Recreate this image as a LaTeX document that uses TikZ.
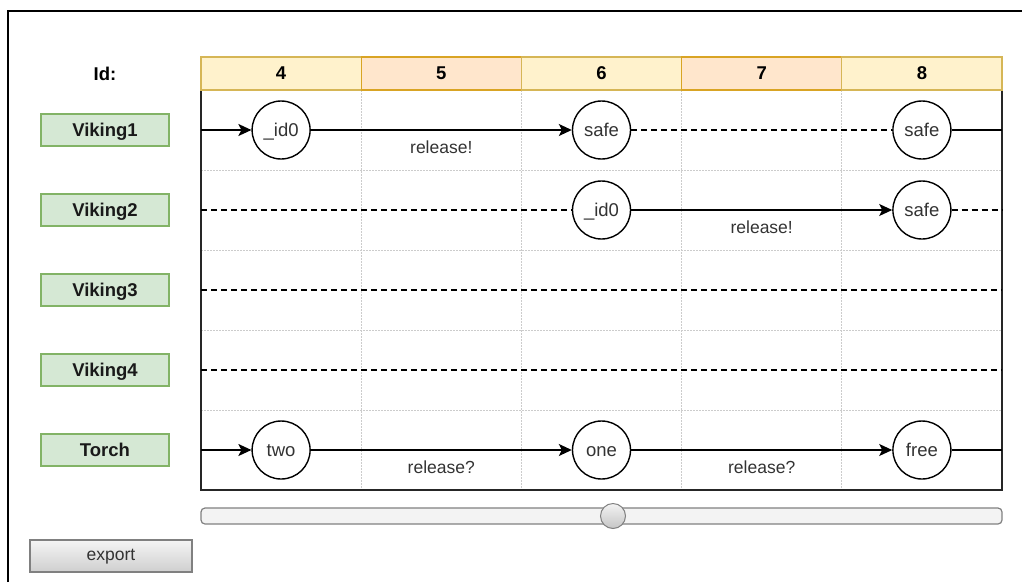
\documentclass[tikz,border=0pt]{standalone}
\usepackage{fontspec}
\setmainfont{Liberation Sans}
\usepackage{xcolor}
\usepackage{tikz}
\usetikzlibrary{arrows.meta,shapes.misc}

\definecolor{hdryellow}{HTML}{FFF2CC}
\definecolor{hdryellowline}{HTML}{D6B656}
\definecolor{hdrorange}{HTML}{FFE6CC}
\definecolor{hdrorangeline}{HTML}{D9A424}
\definecolor{agentfill}{HTML}{D5E8D4}
\definecolor{agentline}{HTML}{82B366}
\definecolor{txtgray}{HTML}{333333}
\definecolor{trackfill}{HTML}{F3F3F3}

\newcommand{\uifont}{\fontsize{17.5pt}{21pt}\selectfont}
\newcommand{\uistate}{\fontsize{18.5pt}{22pt}\selectfont}
\newcommand{\uibold}{\fontsize{18.5pt}{22pt}\selectfont\bfseries}

\tikzset{
  idcell/.style={draw=hdryellowline, fill=hdryellow, line width=1.2pt,
    minimum width=160.2pt, minimum height=33pt, inner sep=0pt,
    font=\uibold, text=black},
  idcellalt/.style={idcell, draw=hdrorangeline, fill=hdrorange},
  agent/.style={draw=agentline, fill=agentfill, line width=1.2pt,
    minimum width=128pt, minimum height=32pt, inner sep=0pt,
    font=\uibold, text=black!90},
  state/.style={circle, draw, fill=white, line width=1.4pt,
    minimum size=58pt, inner sep=0pt, font=\uistate, text height=13pt},
  flow/.style={line width=1.4pt, -{Stealth[length=13pt,width=12pt,inset=3pt]}},
  link/.style={line width=1.4pt},
  idle/.style={line width=1.4pt, dash pattern=on 6pt off 4pt},
  lane/.style={gray!40, line width=0.8pt, dash pattern=on 1.5pt off 1.5pt},
  guard/.style={below=7pt},
}

\begin{document}
\begin{tikzpicture}[x=1pt,y=-1pt,
  every node/.style={font=\uifont, text=txtgray, text height=12.5pt, text depth=0pt}]
  \useasboundingbox (0,0) rectangle (1022,582);

  % window frame
  \draw[line width=1.5pt] (8,582) -- (8,11) -- (1022,11);

  % timeline grid
  \draw[lane] (361.2,90) -- (361.2,490);
  \draw[lane] (521.4,90) -- (521.4,490);
  \draw[lane] (681.6,90) -- (681.6,490);
  \draw[lane] (841.8,90) -- (841.8,490);
  \draw[lane] (201,170) -- (1002,170);
  \draw[lane] (201,250) -- (1002,250);
  \draw[lane] (201,330) -- (1002,330);
  \draw[lane] (201,410) -- (1002,410);
  \draw[line width=1.6pt, black!85] (201,90) -- (201,490) -- (1002,490) -- (1002,90);

  % id header
  \node[font=\uibold, text=black] (idlabel) at (105,74) {Id:};
  \node[idcell]    (h4) at (281.1,73.5) {4};
  \node[idcellalt] (h5) at (441.3,73.5) {5};
  \node[idcell]    (h6) at (601.5,73.5) {6};
  \node[idcellalt] (h7) at (761.7,73.5) {7};
  \node[idcell]    (h8) at (921.9,73.5) {8};

  % agents
  \node[agent] (viking1) at (105,130) {Viking1};
  \node[agent] (viking2) at (105,210) {Viking2};
  \node[agent] (viking3) at (105,290) {Viking3};
  \node[agent] (viking4) at (105,370) {Viking4};
  \node[agent] (torch)   at (105,450) {Torch};

  % lane ends
  \coordinate (v1in) at (201,130);  \coordinate (v1out) at (1002,130);
  \coordinate (v2in) at (201,210);  \coordinate (v2out) at (1002,210);
  \coordinate (v3in) at (201,290);  \coordinate (v3out) at (1002,290);
  \coordinate (v4in) at (201,370);  \coordinate (v4out) at (1002,370);
  \coordinate (tin)  at (201,450);  \coordinate (tout)  at (1002,450);

  % states
  \node[state] (v1a) at (281.1,130) {\_id0};
  \node[state] (v1b) at (601.5,130) {safe};
  \node[state] (v1c) at (921.9,130) {safe};
  \node[state] (v2a) at (601.5,210) {\_id0};
  \node[state] (v2b) at (921.9,210) {safe};
  \node[state] (t1)  at (281.1,450) {two};
  \node[state] (t2)  at (601.5,450) {one};
  \node[state] (t3)  at (921.9,450) {free};

  % Viking1
  \draw[flow] (v1in) -- (v1a);
  \draw[flow] (v1a) -- node[guard] {release!} (v1b);
  \draw[idle] (v1b) -- (v1c);
  \draw[link] (v1c) -- (v1out);

  % Viking2
  \draw[idle] (v2in) -- (v2a);
  \draw[flow] (v2a) -- node[guard] {release!} (v2b);
  \draw[idle] (v2b) -- (v2out);

  % Viking3, Viking4
  \draw[idle] (v3in) -- (v3out);
  \draw[idle] (v4in) -- (v4out);

  % Torch
  \draw[flow] (tin) -- (t1);
  \draw[flow] (t1) -- node[guard] {release?} (t2);
  \draw[flow] (t2) -- node[guard] {release?} (t3);
  \draw[link] (t3) -- (tout);

  % slider and button
  \node[draw=gray, fill=trackfill, line width=1.2pt, rounded corners=4pt,
    minimum width=801pt, minimum height=16pt, inner sep=0pt] (track) at (601.5,516) {};
  \node[circle, draw=gray, line width=1pt, top color=gray!10, bottom color=gray!45,
    minimum size=25pt, inner sep=0pt] (knob) at (613,516) {};
  \node[draw=gray, line width=1.2pt, top color=gray!8, bottom color=gray!38,
    minimum width=162pt, minimum height=32pt, inner sep=0pt, text depth=3pt] (export) at (111,556) {export};
\end{tikzpicture}
\end{document}
